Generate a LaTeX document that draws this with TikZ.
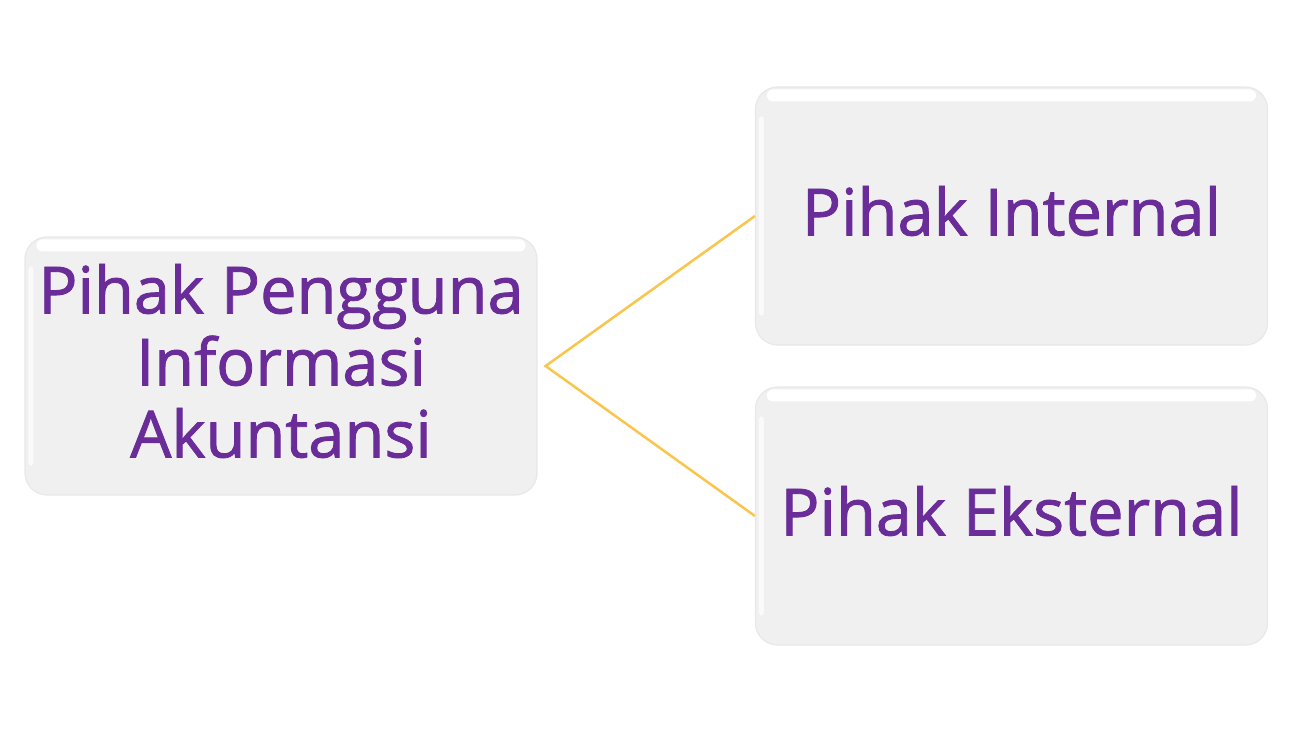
\documentclass[tikz,border=0pt]{standalone}
\usepackage{fontspec}
\setmainfont{Open Sans}[FakeBold=1.3]
\definecolor{boxfill}{HTML}{F0F0F0}
\definecolor{boxedge}{HTML}{E8E8E8}
\definecolor{txtpurple}{HTML}{6A2C99}
\definecolor{linkyellow}{HTML}{FAC54D}
\tikzset{
  card/.style={draw=boxedge, line width=1.2pt, fill=boxfill, rounded corners=22pt,
    minimum width=512pt, minimum height=258pt, inner sep=0pt},
  cardtext/.style={inner sep=0pt, align=center,
    text=txtpurple, font=\fontsize{65}{72}\selectfont},
  link/.style={draw=linkyellow, line width=2.5pt, line join=miter},
  gloss/.style={fill=white, rounded corners=6pt}
}
\begin{document}
\begin{tikzpicture}[x=1pt,y=-1pt]
\useasboundingbox (0,0) rectangle (1292,732);
\node[card] (main) at (281,366) {};
\node[card] (internal) at (1011.5,216) {};
\node[card] (eksternal) at (1011.5,516) {};
\foreach \n in {main,internal,eksternal}{
  \fill[gloss] ([xshift=12pt,yshift=-3pt]\n.north west) rectangle ([xshift=-12pt,yshift=-15pt]\n.north east);
  \fill[white, opacity=0.7, rounded corners=3pt] ([xshift=4pt,yshift=-30pt]\n.north west) rectangle ([xshift=9pt,yshift=30pt]\n.south west);
}
\node[cardtext] (maintext) at ([yshift=5pt]main.center) {Pihak Pengguna\\Informasi\\Akuntansi};
\node[cardtext] (internaltext) at ([yshift=5pt]internal.center) {Pihak Internal};
\node[cardtext] (eksternaltext) at ([yshift=5pt]eksternal.center) {Pihak Eksternal};
\coordinate (fork) at ([xshift=8pt]main.east);
\draw[link] (internal.west) -- (fork) -- (eksternal.west);
\end{tikzpicture}
\end{document}
